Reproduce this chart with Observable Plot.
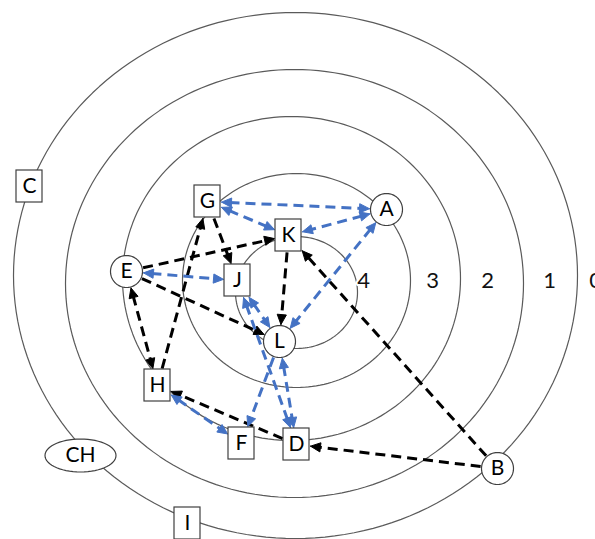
<!DOCTYPE html>
<html><head><meta charset="utf-8">
<script src="https://cdn.jsdelivr.net/npm/d3@7"></script>
<script src="https://cdn.jsdelivr.net/npm/@observablehq/plot@0.6"></script>
<style>body{margin:0;background:#fff;overflow:hidden}</style>
</head><body><div id="chart"></div>
<script>
// Rings (levels 0 = outermost ... 4 = innermost)
const ringLevel = [0, 1, 2, 3, 4];
const ringCx = [295, 294, 291, 296, 296];
const ringCy = [275, 283, 278, 280, 292];
const ringRx = [282, 229, 169, 114, 61];
const ringRy = [263, 214, 162, 107, 56];
const ringLabelX = [595, 549, 487, 432, 363];
const ringLabelY = [280, 280, 280, 280, 280];

// Nodes
const nodeName  = ["A", "B", "C", "CH", "D", "E", "F", "G", "H", "I", "J", "K", "L"];
const nodeX     = [386, 497, 29, 80, 296, 126, 241, 207, 157, 187, 237, 288, 279];
const nodeY     = [209, 468, 186, 455, 444, 271, 443, 201, 385, 523, 280, 235, 341];
const nodeShape = ["circle", "circle", "box", "oval", "box", "circle", "box", "box", "box", "box", "box", "box", "circle"];

// Relations: [from, to, both directions?]
const blackLinks = [
  ["E", "K", false], ["E", "L", false], ["G", "J", false], ["K", "L", false],
  ["B", "K", false], ["B", "D", false], ["D", "H", false], ["E", "H", true], ["H", "G", false]
];
const blueLinks = [
  ["G", "A", true], ["G", "K", true], ["A", "K", true], ["A", "L", true], ["E", "J", true],
  ["J", "L", true], ["J", "D", true], ["L", "D", true], ["L", "F", false], ["H", "F", true]
];

// ---- build tables ----
const shapeSize = {box: [13, 16], circle: [16, 16], oval: [35.5, 16.5]};
const nodes = nodeName.map((n, i) => ({name: n, x: nodeX[i], y: nodeY[i], shape: nodeShape[i]}));
const byName = Object.fromEntries(nodes.map(d => [d.name, d]));

const ringPts = ringLevel.flatMap((lv, i) => d3.range(0, 361, 2).map(a => ({
  ring: lv,
  x: ringCx[i] + ringRx[i] * Math.cos(a * Math.PI / 180),
  y: ringCy[i] + ringRy[i] * Math.sin(a * Math.PI / 180)
})));
const ringLabels = ringLevel.map((lv, i) => ({label: String(lv), x: ringLabelX[i], y: ringLabelY[i]}));

function boundary(node, ux, uy) {
  const [hw, hh] = shapeSize[node.shape];
  if (node.shape === "box") {
    return Math.min(Math.abs(ux) > 1e-9 ? hw / Math.abs(ux) : Infinity, Math.abs(uy) > 1e-9 ? hh / Math.abs(uy) : Infinity);
  }
  return 1 / Math.sqrt((ux / hw) ** 2 + (uy / hh) ** 2);
}

const headLen = 10, headW = 4.6, gap = 1;
function buildEdges(list, color) {
  const segs = [], heads = [];
  list.forEach(([f, t, both], k) => {
    const a = byName[f], b = byName[t];
    const dx = b.x - a.x, dy = b.y - a.y, L = Math.hypot(dx, dy);
    const ux = dx / L, uy = dy / L;
    const ta = boundary(a, ux, uy) + gap, tb = boundary(b, ux, uy) + gap;
    const sx = a.x + ux * ta, sy = a.y + uy * ta;
    const ex = b.x - ux * tb, ey = b.y - uy * tb;
    const id = color + k;
    const head = (tx, ty, vx, vy, hid) => {
      const bx = tx - vx * headLen, by = ty - vy * headLen;
      heads.push({id: hid, x: tx, y: ty}, {id: hid, x: bx - vy * headW, y: by + vx * headW},
                 {id: hid, x: bx + vy * headW, y: by - vx * headW}, {id: hid, x: tx, y: ty});
    };
    head(ex, ey, ux, uy, id + "e");
    let x1 = sx, y1 = sy;
    if (both) { head(sx, sy, -ux, -uy, id + "s"); x1 = sx + ux * headLen * 0.8; y1 = sy + uy * headLen * 0.8; }
    segs.push({x1, y1, x2: ex - ux * headLen * 0.8, y2: ey - uy * headLen * 0.8});
  });
  return {segs, heads};
}
const black = buildEdges(blackLinks, "k");
const blue = buildEdges(blueLinks, "b");
const BLUE = "#4472C4";

const ovalPts = nodes.filter(d => d.shape !== "box").flatMap(d => d3.range(0, 360, 6).map(a => ({
  name: d.name,
  x: d.x + shapeSize[d.shape][0] * Math.cos(a * Math.PI / 180),
  y: d.y + shapeSize[d.shape][1] * Math.sin(a * Math.PI / 180)
})));
const boxes = nodes.filter(d => d.shape === "box");

const font = "Lato, 'Open Sans', sans-serif";
const chart = Plot.plot({
  width: 595, height: 539,
  margin: 0,
  x: {domain: [0, 595], range: [0, 595], axis: null},
  y: {domain: [0, 539], range: [0, 539], axis: null},
  style: {background: "#fff"},
  marks: [
    Plot.line(ringPts, {x: "x", y: "y", z: "ring", stroke: "#5a5a5a", strokeWidth: 1.2, curve: "linear-closed"}),
    Plot.text(ringLabels, {x: "x", y: "y", text: "label", fontSize: 22, fontFamily: font, fill: "#111",
      stroke: "white", strokeWidth: 4, paintOrder: "stroke"}),
    Plot.link(black.segs, {x1: "x1", y1: "y1", x2: "x2", y2: "y2", stroke: "#000", strokeWidth: 3, strokeDasharray: "10,6"}),
    Plot.line(black.heads, {x: "x", y: "y", z: "id", fill: "#000", stroke: "#000", strokeWidth: 1, strokeLinejoin: "miter"}),
    Plot.link(blue.segs, {x1: "x1", y1: "y1", x2: "x2", y2: "y2", stroke: BLUE, strokeWidth: 3, strokeDasharray: "10,6"}),
    Plot.line(blue.heads, {x: "x", y: "y", z: "id", fill: BLUE, stroke: BLUE, strokeWidth: 1, strokeLinejoin: "miter"}),
    Plot.rect(boxes, {x1: d => d.x - shapeSize.box[0], x2: d => d.x + shapeSize.box[0],
      y1: d => d.y - shapeSize.box[1], y2: d => d.y + shapeSize.box[1], fill: "white", stroke: "#404040", strokeWidth: 1.2}),
    Plot.line(ovalPts, {x: "x", y: "y", z: "name", fill: "white", stroke: "#404040", strokeWidth: 1.2, curve: "linear-closed"}),
    Plot.text(nodes, {x: "x", y: "y", text: "name", fontSize: 21, fontFamily: font, fill: "#000"})
  ]
});
document.getElementById("chart").appendChild(chart);
</script>
</body></html>
